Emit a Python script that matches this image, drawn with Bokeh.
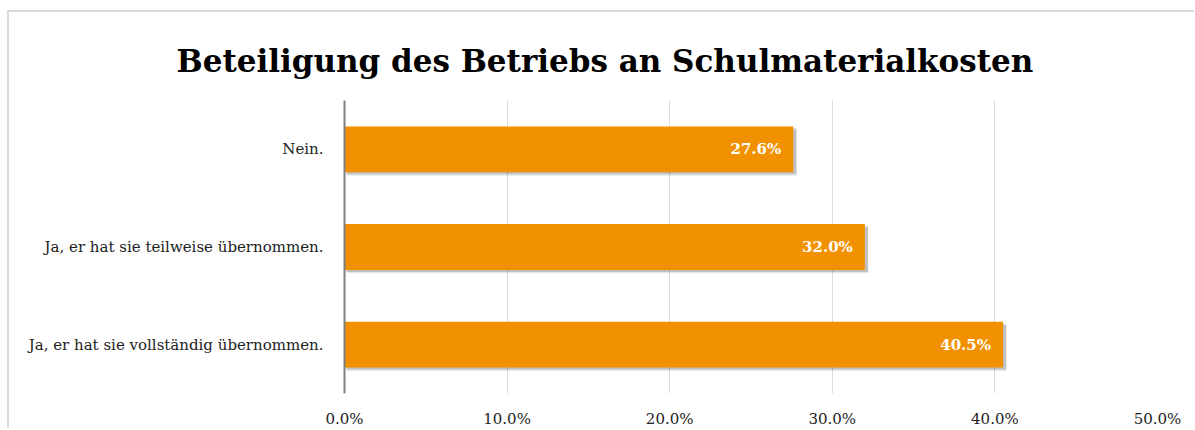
from bokeh.plotting import figure
from bokeh.models import ColumnDataSource, FactorRange, FixedTicker, CustomJSTickFormatter, Title
from bokeh.transform import dodge
from bokeh.core.properties import value
from bokeh.embed import file_html
from bokeh.resources import INLINE

title_text = "Beteiligung des Betriebs an Schulmaterialkosten"
categories = ["Ja, er hat sie vollständig übernommen.",
              "Ja, er hat sie teilweise übernommen.",
              "Nein."]
values = [40.5, 32.0, 27.6]
x_ticks = [0, 10, 20, 30, 40, 50]

labels = [f"{v:.1f}%" for v in values]
shadow_right = [v + 0.2 for v in values]
src = ColumnDataSource(dict(cat=categories, val=values, lab=labels, sr=shadow_right))

BAR = "#F29100"
SERIF = "DejaVu Serif"

p = figure(width=1187, height=418, output_backend="svg", toolbar_location=None,
           y_range=FactorRange(*categories, range_padding=0), x_range=(0, 50),
           min_border_left=335, min_border_right=39, min_border_top=88, min_border_bottom=35,
           outline_line_color=None, background_fill_color="white", border_fill_color="white")
p.styles = {"border-top": "2px solid #d9d9d9", "border-left": "2px solid #d9d9d9",
            "box-sizing": "border-box", "margin-left": "7px", "margin-top": "10px"}

t = Title(text=title_text, align="left", offset=-168, standoff=44,
          text_font=SERIF, text_font_style="bold", text_font_size="31px",
          text_color="#000000")
p.add_layout(t, "above")

# shadows
p.hbar(y=dodge("cat", -0.035, range=p.y_range), left=0.15, right="sr", height=0.47,
       source=src, fill_color="#000000", fill_alpha=0.10, line_color=None)
p.hbar(y=dodge("cat", -0.02, range=p.y_range), left=0.1, right="sr", height=0.47,
       source=src, fill_color="#000000", fill_alpha=0.16, line_color=None)
# bars
p.hbar(y="cat", left=0, right="val", height=0.47, source=src,
       fill_color=BAR, line_color=None)
p.text(x="val", y="cat", text="lab", source=src, x_offset=-12,
       text_align="right", text_baseline="middle", text_color="white",
       text_font=value(SERIF), text_font_style="bold", text_font_size="15px")

# axes
p.xaxis.ticker = FixedTicker(ticks=x_ticks)
p.xaxis.formatter = CustomJSTickFormatter(code="return tick.toFixed(1) + '%';")
p.xaxis.axis_line_color = None
p.xaxis.major_tick_line_color = None
p.xaxis.minor_tick_line_color = None
p.xaxis.major_label_standoff = 10
p.xaxis.major_label_text_font = SERIF
p.xaxis.major_label_text_font_size = "15px"
p.xaxis.major_label_text_color = "#222222"

p.yaxis.axis_line_color = "#7f7f7f"
p.yaxis.axis_line_width = 2
p.yaxis.major_tick_line_color = None
p.yaxis.minor_tick_line_color = None
p.yaxis.major_label_standoff = 15
p.yaxis.major_label_text_font = SERIF
p.yaxis.major_label_text_font_size = "15px"
p.yaxis.major_label_text_color = "#222222"

p.xgrid.grid_line_color = "#dcdcdc"
p.xgrid.grid_line_width = 1
p.ygrid.grid_line_color = None

open("out.html", "w").write(file_html(p, INLINE))
